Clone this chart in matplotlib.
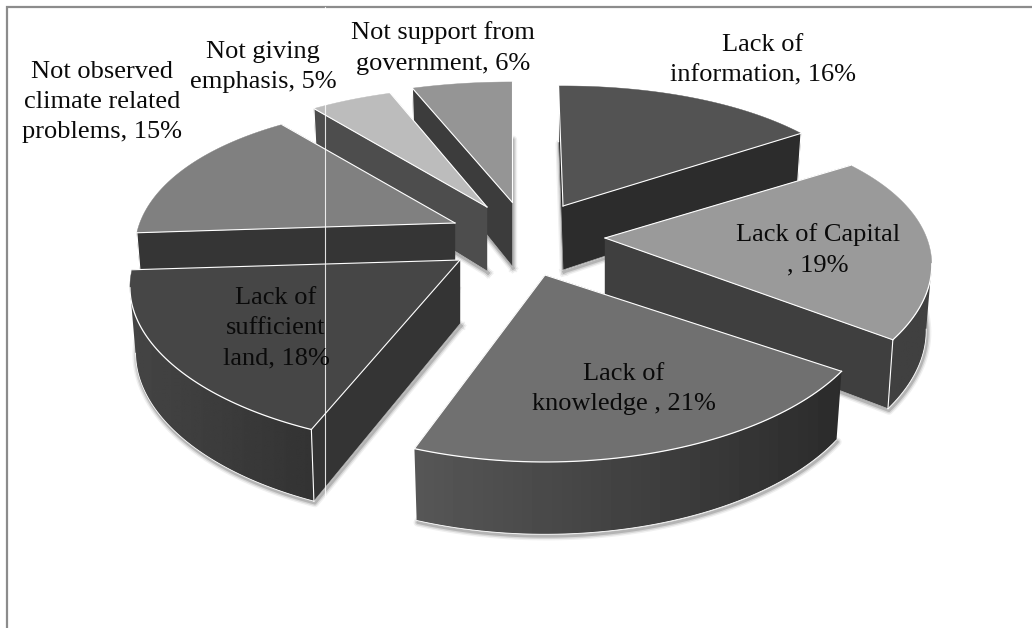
import numpy as np
import matplotlib
matplotlib.use('Agg')
import matplotlib.pyplot as plt
from matplotlib.patches import Polygon

# Slices, clockwise from twelve o'clock
categories = ['Lack of\ninformation', 'Lack of Capital\n', 'Lack of\nknowledge ', 'Lack of\nsufficient\nland',
              'Not observed\nclimate related\nproblems', 'Not giving\nemphasis', 'Not support from\ngovernment']
values = [16, 19, 21, 18, 15, 5, 6]

# How far each slice was pulled away from the pie centre (pixels)
explode_x = [53, 95, 35, -50, -55, -23, 2]
explode_y = [-29, 3, 40, 25, -12, -28, -33]

# Small per slice corrections of the wedge shape
start_nudge = [-1, 0, -2, 1.5, 0, 0, 0]
end_nudge = [0, 0, -1.5, 0, 0, 0, 0]
width_scale = [0.96, 0.99, 1, 1, 0.97, 0.97, 1]

# Grey levels
top_colors = ['#535353', '#9a9a9a', '#707070', '#464646', '#808080', '#bcbcbc', '#959595']
wall_colors = ['#2c2c2c', '#3f3f3f', '#2f2f2f', '#343434', '#353535', '#4d4d4d', '#3c3c3c']
arc_left = [0.17, 0.25, 0.34, 0.27, 0.21, 0.3, 0.24]
arc_right = [0.17, 0.25, 0.17, 0.2, 0.21, 0.3, 0.24]

# Label centres and draw order (back slices first)
label_x = [763, 818, 624, 276, 102, 263, 443]
label_y = [60, 250, 389, 328, 102, 67, 48]
draw_order = [6, 5, 4, 0, 1, 3, 2]

# Projection of the tilted pie
center_x, center_y = 510, 235
radius_x, radius_y = 325, 153.5
persp_x, persp_y = 0.18, 0.218
depth, persp_depth = 64, 0.13
bottom_taper = 0.983

plt.rcParams['font.family'] = ['Liberation Serif', 'DejaVu Serif']

fig = plt.figure(figsize=(10.32, 6.28), dpi=100)
ax = fig.add_axes([0, 0, 1, 1])
ax.set_xlim(0, 1032)
ax.set_ylim(628, 0)
ax.axis('off')

# Chart frame, only the top and left show
ax.plot([1032, 7, 7], [7, 7, 628], color='#8c8c8c', lw=1.6, zorder=1, solid_joinstyle='miter')


def project(angle, scale):
    # angle in degrees clockwise from the top, returns offsets from the slice apex
    a = np.radians(angle)
    X, Y = np.sin(a), -np.cos(a)
    return scale * radius_x * X * (1 + persp_x * Y), radius_y * Y * (1 + persp_y * Y), Y


edges = np.concatenate([[0], np.cumsum(values)]) * 360.0 / sum(values)
z = 2

for i in draw_order:
    ax_, ay_ = center_x + explode_x[i], center_y + explode_y[i]
    angles = np.linspace(edges[i] + start_nudge[i], edges[i + 1] + end_nudge[i], 60)
    ox, oy, oY = project(angles, width_scale[i])
    arc_x, arc_y = ax_ + ox, ay_ + oy
    arc_d = depth * (1 + persp_depth * oY)
    low_x = ax_ + ox * bottom_taper
    low_y = arc_y + arc_d

    top_x = np.concatenate([[ax_], arc_x])
    top_y = np.concatenate([[ay_], arc_y])
    mid_x, mid_y = top_x.mean(), top_y.mean()

    # Soft shadow under the bottom rim
    for lw, alpha in [(6, 0.06), (4, 0.10), (2, 0.16)]:
        ax.plot(np.concatenate([[ax_], low_x, [ax_]]) + 1,
                np.concatenate([[ay_ + depth], low_y, [ay_ + depth]]) + 2,
                color='black', lw=lw, alpha=alpha, zorder=z, solid_joinstyle='round')
    z += 1

    # Radial walls, only the ones turned to the viewer
    for k in (0, -1):
        px, py = arc_x[k], arc_y[k]
        nx, ny = -(py - ay_), px - ax_
        if nx * (mid_x - ax_) + ny * (mid_y - ay_) > 0:
            nx, ny = -nx, -ny
        ax.plot([ax_, px], [ay_, py], color='white', lw=0.8, zorder=z + 2)
        if ny > 0:
            ax.fill([ax_, px, low_x[k], ax_], [ay_, py, low_y[k], ay_ + depth],
                    color=wall_colors[i], lw=0.3, zorder=z)
            ax.plot([ax_, low_x[k]], [ay_ + depth, low_y[k]], color='white', lw=0.5, alpha=0.6, zorder=z + 2)
            ax.plot([px, low_x[k]], [py, low_y[k]], color='white', lw=0.8, zorder=z + 2)

    # Outer wall, shaded left to right through a clipped gradient
    nx = arc_y[:-1] - arc_y[1:]
    ny = arc_x[1:] - arc_x[:-1]
    flip = nx * (arc_x[:-1] - ax_) + ny * (arc_y[:-1] - ay_) < 0
    ny = np.where(flip, -ny, ny)
    seen = np.where(ny > 0)[0]
    if len(seen) > 0:
        a, b = seen[0], seen[-1] + 2
        wall_x = np.concatenate([arc_x[a:b], low_x[a:b][::-1]])
        wall_y = np.concatenate([arc_y[a:b], low_y[a:b][::-1]])
        shade = np.linspace(arc_left[i], arc_right[i], 128).reshape(1, -1)
        im = ax.imshow(shade, extent=(arc_x.min() - 2, arc_x.max() + 2, low_y.max() + 2, arc_y.min() - 2),
                       aspect='auto', cmap='gray', vmin=0, vmax=1, interpolation='bilinear', zorder=z)
        im.set_clip_path(Polygon(np.column_stack([wall_x, wall_y]), transform=ax.transData))
        ax.plot(arc_x[a:b], arc_y[a:b], color='white', lw=0.9, zorder=z + 2)
        ax.plot(low_x[a:b], low_y[a:b], color='white', lw=0.6, zorder=z + 2)

    # Top face
    ax.fill(top_x, top_y, color=top_colors[i], lw=0.3, zorder=z + 1)
    z += 3

# imshow moves the limits, put them back
ax.set_xlim(0, 1032)
ax.set_ylim(628, 0)

# Stray guide line that crosses the picture
ax.plot([324.5, 324.5], [7, 500], color='white', lw=0.8, alpha=0.85, zorder=z)
z += 1

# Labels
for i in range(len(values)):
    ax.text(label_x[i], label_y[i], f'{categories[i]}, {values[i]}%', ha='center', va='center',
            fontsize=19, color='#0a0a0a', linespacing=1.48, zorder=z)

fig.savefig('out.png', dpi=100)
